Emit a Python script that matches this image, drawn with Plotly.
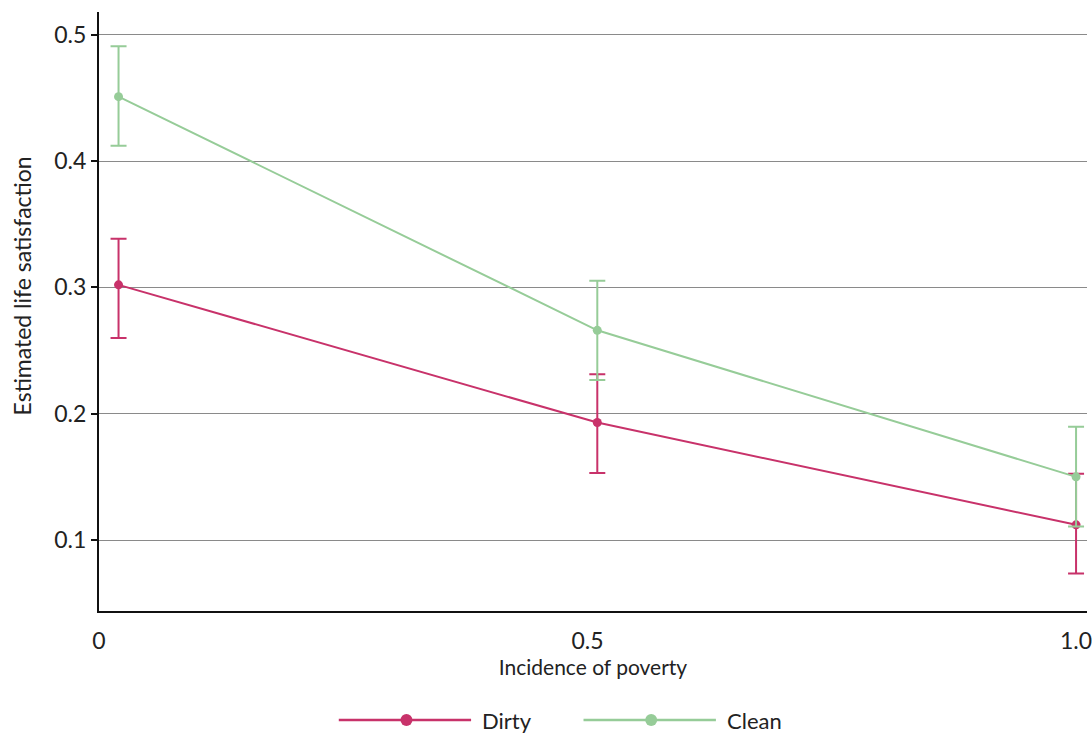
import plotly.graph_objects as go

# Incidence of poverty (x) and estimated life satisfaction per group
poverty = [0.02, 0.51, 1.0]

dirty = [0.302, 0.193, 0.112]
dirty_hi = [0.3385, 0.2313, 0.1524]
dirty_lo = [0.260, 0.153, 0.0735]

clean = [0.451, 0.266, 0.150]
clean_hi = [0.4908, 0.3052, 0.1896]
clean_lo = [0.4121, 0.2266, 0.1107]

series_names = ["Dirty", "Clean"]
colors = ["#C8326A", "#96CC98"]

y_ticks = [0.1, 0.2, 0.3, 0.4, 0.5]
y_tick_text = ["0.1", "0.2", "0.3", "0.4", "0.5"]
x_ticks = [0, 0.5, 1.0]
x_tick_text = ["0", "0.5", "1.0"]

FONT = "Lato, Nunito, 'Open Sans', sans-serif"
PLOT_W, PLOT_H = 993, 599

fig = go.Figure()
for name, vals, hi, lo, col in [
    (series_names[0], dirty, dirty_hi, dirty_lo, colors[0]),
    (series_names[1], clean, clean_hi, clean_lo, colors[1]),
]:
    fig.add_trace(go.Scatter(
        x=poverty, y=vals, name=name, mode="lines+markers",
        line=dict(color=col, width=2),
        marker=dict(color=col, size=9),
        error_y=dict(
            type="data", symmetric=False,
            array=[h - v for h, v in zip(hi, vals)],
            arrayminus=[v - l for v, l in zip(vals, lo)],
            color=col, thickness=2, width=8,
        ),
        showlegend=False,
    ))

# Custom legend below the axis: long line sample with a centred marker
legend_y = -0.1820
# (line start, line end, marker centre, label x) in paper units
entries = [
    (0.2427, 0.3766, 0.3112, 0.3857),
    (0.4904, 0.6244, 0.5589, 0.6335),
]
for (x0, x1, xm, xt), name, col in zip(entries, series_names, colors):
    fig.add_shape(type="line", xref="paper", yref="paper",
                  x0=x0, x1=x1, y0=legend_y, y1=legend_y,
                  line=dict(color=col, width=2.5))
    r_x = 6 / PLOT_W
    r_y = 6 / PLOT_H
    fig.add_shape(type="circle", xref="paper", yref="paper",
                  x0=xm - r_x, x1=xm + r_x, y0=legend_y - r_y, y1=legend_y + r_y,
                  fillcolor=col, line=dict(color=col, width=0))
    fig.add_annotation(xref="paper", yref="paper", x=xt, y=legend_y,
                       text=name, showarrow=False, xanchor="left", yanchor="middle",
                       font=dict(size=22, color="#222222", family=FONT))

# Y-axis title, placed slightly above the plot's vertical centre
fig.add_annotation(xref="paper", yref="paper", x=-0.0775, y=0.5426,
                   text="Estimated life satisfaction", showarrow=False, textangle=-90,
                   xanchor="center", yanchor="middle",
                   font=dict(size=23, color="#222222", family=FONT))

fig.update_layout(
    width=1092, height=733,
    margin=dict(l=99, r=0, t=12, b=122),
    paper_bgcolor="white", plot_bgcolor="white",
    font=dict(family=FONT, color="#222222"),
    showlegend=False,
)
fig.update_xaxes(
    range=[0, 1.0112], tickvals=x_ticks, ticktext=x_tick_text,
    showgrid=False, zeroline=False,
    showline=True, linecolor="#111111", linewidth=2,
    ticks="", ticklabelstandoff=8, ticklabeloverflow="allow",
    tickfont=dict(size=23, color="#222222"),
    title=dict(text="Incidence of poverty", font=dict(size=21, color="#222222"), standoff=6),
)
fig.update_yaxes(
    range=[0.0438, 0.518], tickvals=y_ticks, ticktext=y_tick_text,
    showgrid=True, gridcolor="#8a8a8a", gridwidth=1.2, zeroline=False,
    showline=True, linecolor="#111111", linewidth=2,
    ticks="outside", ticklen=6, tickcolor="#111111", tickwidth=1.5,
    tickfont=dict(size=23, color="#222222"),
)

fig.write_html("out.html")
